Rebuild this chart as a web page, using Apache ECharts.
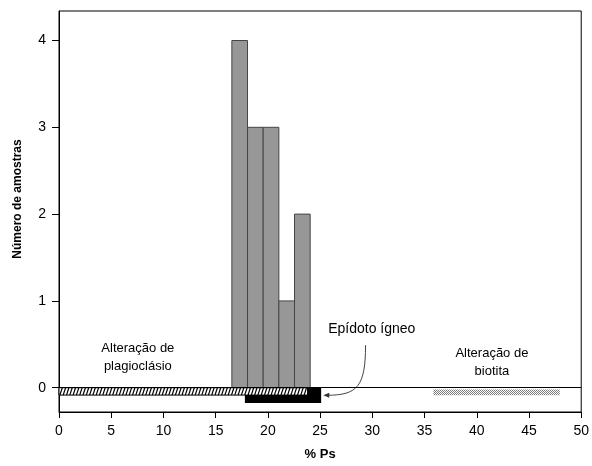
<!DOCTYPE html>
<html><head><meta charset="utf-8">
<script src="https://cdn.jsdelivr.net/npm/echarts@6/dist/echarts.min.js"></script>
<style>html,body{margin:0;padding:0;background:#fff}#c{width:592px;height:466px}</style>
</head><body><div id="c"></div>
<script>
// ---- data ----
const binStarts = [16.55, 18.05, 19.55, 21.05, 22.55];
const binWidth = 1.5;
const counts = [4, 3, 3, 1, 2];
const xTickValues = [0, 5, 10, 15, 20, 25, 30, 35, 40, 45, 50];
const yTickValues = [0, 1, 2, 3, 4];
// bands: [x0, x1, yTop, yBottom, kind]
const epidotoBand = [17.8, 25.1, 0, -0.175, 'solid'];
const plagioBand = [0, 23.8, 0, -0.085, 'hatch'];
const biotitaBand = [35.85, 47.95, -0.02, -0.087, 'dots'];
// annotations: [x, y, text, fontSize]
const labelTexts = [
  [7.55, 0.35, 'Alteração de\nplagioclásio', 13],
  [29.95, 0.67, 'Epídoto ígneo', 14],
  [41.45, 0.29, 'Alteração de\nbiotita', 13]
];
// arrow: start, control1, control2, end (data units)
const arrowPath = [[29.35, 0.49], [29.35, 0.02], [28.6, -0.087], [25.3, -0.087]];

const FONT = "'Liberation Sans', Arial, sans-serif";

// dotted pattern
const dotCanvas = document.createElement('canvas');
dotCanvas.width = 2; dotCanvas.height = 2;
(function(){const g = dotCanvas.getContext('2d');
  g.fillStyle = '#fff'; g.fillRect(0,0,2,2);
  g.fillStyle = '#7a7a7a'; g.fillRect(0,0,1,1); g.fillRect(1,1,1,1);})();

const histData = binStarts.map((s, i) => [s, s + binWidth, counts[i]]);

const chart = echarts.init(document.getElementById('c'), null, {renderer: 'canvas'});
chart.setOption({
  animation: false,
  backgroundColor: '#fff',
  grid: {left: 59, right: 9, top: 11, bottom: 54, show: true, borderColor: '#000', borderWidth: 1, backgroundColor: 'transparent'},
  xAxis: {
    type: 'value', min: 0, max: 50, interval: 5,
    axisLine: {show: true, onZero: false, lineStyle: {color: '#000', width: 1}},
    axisTick: {show: true, length: 6, lineStyle: {color: '#000'}},
    axisLabel: {color: '#000', fontSize: 14, fontFamily: FONT, margin: 12},
    splitLine: {show: false},
    name: '% Ps', nameLocation: 'middle', nameGap: 36,
    nameTextStyle: {color: '#000', fontSize: 13, fontWeight: 'bold', fontFamily: FONT}
  },
  yAxis: {
    type: 'value', min: -0.28, max: 4.34,
    axisLine: {show: true, onZero: false, lineStyle: {color: '#000', width: 1}},
    axisTick: {show: true, length: 7, customValues: yTickValues, lineStyle: {color: '#000'}},
    axisLabel: {color: '#000', fontSize: 14, fontFamily: FONT, margin: 13, customValues: yTickValues},
    splitLine: {show: false}
  },
  graphic: [{
    type: 'text', rotation: Math.PI / 2, x: 18, y: 199,
    style: {text: 'Número de amostras', fill: '#000', font: "bold 12px " + FONT, align: 'center', verticalAlign: 'middle'}
  }],
  series: [
    {
      type: 'custom', z: 2,
      data: [epidotoBand, plagioBand, biotitaBand],
      encode: {x: [0, 1], y: [2, 3]},
      renderItem: function (params, api) {
        const p0 = api.coord([api.value(0), api.value(2)]);
        const p1 = api.coord([api.value(1), api.value(3)]);
        const kind = api.value(4);
        const x = p0[0], y = p0[1], w = p1[0] - p0[0], h = p1[1] - p0[1];
        if (kind === 'solid') {
          return {type: 'rect', shape: {x, y, width: w, height: h}, style: {fill: '#000'}};
        }
        if (kind === 'dots') {
          return {type: 'rect', shape: {x, y, width: w, height: h},
            style: {fill: {image: dotCanvas, repeat: 'repeat'}, stroke: null}};
        }
        // hatch
        const children = [{type: 'rect', shape: {x, y, width: w, height: h}, style: {fill: '#fff', stroke: '#000', lineWidth: 1}}];
        const step = 3.3, dx = 2.4;
        for (let bx = x - dx; bx < x + w; bx += step) {
          let xa = bx, ya = y + h, xb = bx + dx, yb = y;
          if (xa < x) { const t = (x - xa) / dx; xa = x; ya = y + h - t * h; }
          if (xb > x + w) { const t = (xb - (x + w)) / dx; xb = x + w; yb = y + t * h; }
          if (xb <= xa) continue;
          children.push({type: 'line', shape: {x1: xa, y1: ya, x2: xb, y2: yb}, style: {stroke: '#000', lineWidth: 1.2}});
        }
        return {type: 'group', children};
      }
    },
    {
      type: 'custom', z: 3,
      data: histData,
      encode: {x: [0, 1], y: 2},
      renderItem: function (params, api) {
        const p0 = api.coord([api.value(0), api.value(2)]);
        const p1 = api.coord([api.value(1), 0]);
        return {type: 'rect', shape: {x: p0[0], y: p0[1], width: p1[0] - p0[0], height: p1[1] - p0[1]},
          style: {fill: '#979797', stroke: '#454545', lineWidth: 1}};
      },
      markLine: {
        silent: true, symbol: ['none', 'none'], label: {show: false},
        lineStyle: {color: '#000', type: 'solid', width: 1},
        data: [{yAxis: 0}]
      }
    },
    {
      type: 'custom', z: 4,
      data: labelTexts,
      encode: {x: 0, y: 1},
      renderItem: function (params, api) {
        const p = api.coord([api.value(0), api.value(1)]);
        const item = labelTexts[params.dataIndex];
        return {type: 'text', x: p[0], y: p[1],
          style: {text: item[2], fill: '#000', font: item[3] + 'px ' + FONT, align: 'center', verticalAlign: 'middle', lineHeight: 18}};
      }
    },
    {
      type: 'custom', z: 4,
      data: [arrowPath.flat()],
      renderItem: function (params, api) {
        const pts = arrowPath.map(p => api.coord(p));
        const e = pts[3];
        return {type: 'group', children: [
          {type: 'bezierCurve', shape: {x1: pts[0][0], y1: pts[0][1], cpx1: pts[1][0], cpy1: pts[1][1], cpx2: pts[2][0], cpy2: pts[2][1], x2: e[0] + 4, y2: e[1]},
            style: {stroke: '#444', lineWidth: 1, fill: null}},
          {type: 'polygon', shape: {points: [[e[0], e[1]], [e[0] + 6, e[1] - 2.5], [e[0] + 6, e[1] + 2.5]]}, style: {fill: '#333'}}
        ]};
      }
    }
  ]
});
</script>
</body></html>
